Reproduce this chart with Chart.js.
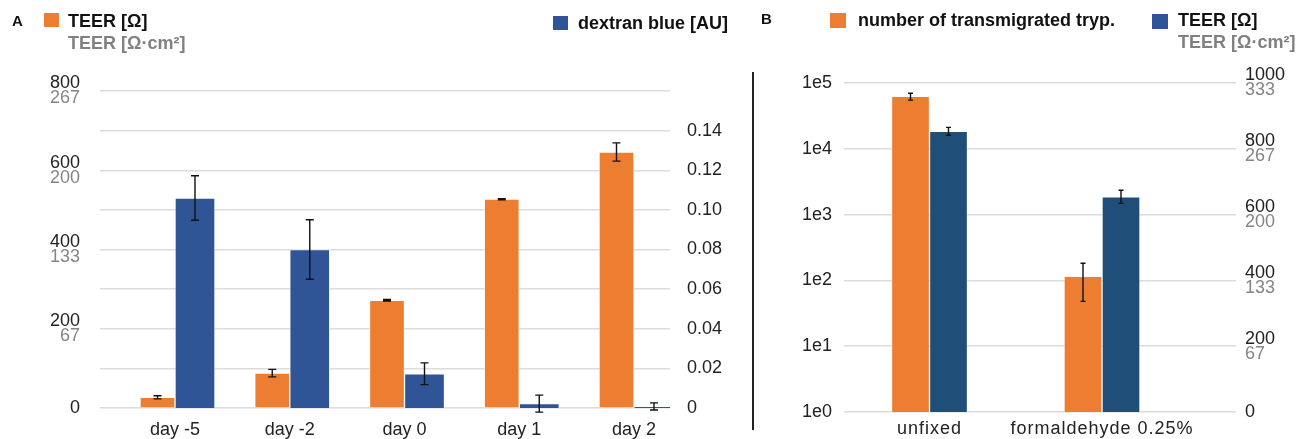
<!DOCTYPE html>
<html>
<head>
<meta charset="utf-8">
<script src="https://cdn.jsdelivr.net/npm/chart.js@4.4.1/dist/chart.umd.min.js"></script>
<style>
  body { margin:0; width:1314px; height:439px; position:relative; overflow:hidden; background:#fff; font-family:'Liberation Sans', Arial, sans-serif; }
  .abs { position:absolute; white-space:nowrap; }
  .lbl { font-weight:bold; font-size:18px; line-height:18px; color:#111; }
  .sub { color:#808080; }
  .letter { font-weight:bold; font-size:15px; line-height:15px; color:#111; }
</style>
</head>
<body>
<canvas id="chartA" class="abs" width="752" height="439" style="left:0;top:0"></canvas>
<canvas id="chartB" class="abs" width="554" height="439" style="left:760px;top:0"></canvas>
<div class="abs" style="left:752px;top:72px;width:1.5px;height:358px;background:#222"></div>

<div class="abs letter" style="left:12px;top:13px">A</div>
<div class="abs" style="left:44px;top:13px;width:15px;height:14px;background:#ED7D31"></div>
<div class="abs lbl" style="left:68px;top:12px">TEER [Ω]</div>
<div class="abs lbl sub" style="left:68px;top:34px">TEER [Ω·cm²]</div>
<div class="abs" style="left:553px;top:16px;width:15px;height:14px;background:#2F5597"></div>
<div class="abs lbl" style="left:578px;top:14px">dextran blue [AU]</div>

<div class="abs letter" style="left:761px;top:11px">B</div>
<div class="abs" style="left:830px;top:13px;width:16px;height:15px;background:#ED7D31"></div>
<div class="abs lbl" style="left:858px;top:11px">number of transmigrated tryp.</div>
<div class="abs" style="left:1152px;top:14px;width:16px;height:15px;background:#2F5597"></div>
<div class="abs lbl" style="left:1178px;top:11px">TEER [Ω]</div>
<div class="abs lbl sub" style="left:1178px;top:33px">TEER [Ω·cm²]</div>

<script>
// panel A
const days = ['day -5', 'day -2', 'day 0', 'day 1', 'day 2'];
const teerA = [27, 88, 272, 527, 646];
const teerErrA = [4, 9.5, 2, 1.5, 23];
const dextranA = [0.106, 0.080, 0.0173, 0.0022, 0.0008];
const dextranErrA = [0.0112, 0.015, 0.0055, 0.0043, 0.0018];
const teerTicksA = [0, 200, 400, 600, 800];
const teerCmTicksA = ['', '67', '133', '200', '267'];

// panel B
const conditions = ['unfixed', 'formaldehyde 0.25%'];
const trypB = [62500, 115];
const trypErrB = [7500, 67];
const teerB = [853, 654];
const teerErrB = [12, 20];
const logTicksB = ['1e0', '1e1', '1e2', '1e3', '1e4', '1e5'];
const teerTicksB = [0, 200, 400, 600, 800, 1000];
const teerCmTicksB = ['', '67', '133', '200', '267', '333'];

const ORANGE = '#ED7D31', BLUE_A = '#2F5597', BLUE_B = '#1F4E79';
const TEXT = '#222', GRID = '#dcdcdc', EDGE = 'rgba(255,255,255,0.5)';
const FAMILY = "'Liberation Sans', Arial, sans-serif";
const tickFont = { family: FAMILY, size: 18, lineHeight: '15px' };
const xFont = { family: FAMILY, size: 18 };

const errorBars = {
  id: 'errorBars',
  afterDatasetsDraw(chart, args, opts) {
    const ctx = chart.ctx;
    ctx.save();
    ctx.strokeStyle = '#111';
    ctx.lineWidth = 1.4;
    chart.data.datasets.forEach((ds, di) => {
      if (!ds.errors) return;
      const meta = chart.getDatasetMeta(di);
      const scale = chart.scales[meta.yAxisID];
      meta.data.forEach((bar, i) => {
        const v = ds.data[i].y, e = ds.errors[i];
        const lo = scale.type === 'logarithmic' ? Math.max(v - e, scale.min) : v - e;
        const yTop = scale.getPixelForValue(v + e), yBot = scale.getPixelForValue(lo);
        const w = opts.cap / 2;
        ctx.beginPath();
        ctx.moveTo(bar.x, yTop); ctx.lineTo(bar.x, yBot);
        ctx.moveTo(bar.x - w, yTop); ctx.lineTo(bar.x + w, yTop);
        ctx.moveTo(bar.x - w, yBot); ctx.lineTo(bar.x + w, yBot);
        ctx.stroke();
      });
    });
    ctx.restore();
  }
};

// grey Ω·cm² line under the Ω tick labels
const subLabels = {
  id: 'subLabels',
  afterDraw(chart, args, opts) {
    const ctx = chart.ctx;
    ctx.save();
    ctx.font = '18px ' + FAMILY;
    ctx.fillStyle = '#858585';
    ctx.textBaseline = 'middle';
    (opts.axes || []).forEach(a => {
      const s = chart.scales[a.id];
      const pad = s.options.ticks.padding;
      const left = s.position === 'left';
      ctx.textAlign = left ? 'right' : 'left';
      const x = left ? s.right - pad : s.left + pad;
      a.values.forEach((v, i) => {
        if (a.labels[i]) ctx.fillText(a.labels[i], x, s.getPixelForValue(v) + 7.5);
      });
    });
    ctx.restore();
  }
};

// the category labels of panel B are slightly letter-spaced
const spacedX = {
  id: 'spacedX',
  afterLayout(chart) {
    const s = chart.scales.x;
    if (s._spaced) return;
    const drawLabels = s.drawLabels;
    s.drawLabels = function (area) {
      const c = this.ctx;
      c.save();
      c.letterSpacing = '1px';
      drawLabels.call(this, area);
      c.restore();
    };
    s._spaced = true;
  }
};

const twoLine = (ticks, subs) => v => {
  const i = ticks.indexOf(v);
  if (i < 0) return '';
  return subs[i] ? [String(v), ''] : String(v);
};

new Chart(document.getElementById('chartA'), {
  type: 'bar',
  data: {
    datasets: [
      { label: 'TEER [Ω]', data: days.map((d, i) => ({ x: i, y: teerA[i] })), errors: teerErrA, yAxisID: 'y',
        backgroundColor: ORANGE, borderColor: EDGE, borderWidth: 1, barThickness: 35 },
      { label: 'dextran blue [AU]', data: days.map((d, i) => ({ x: i, y: dextranA[i] })), errors: dextranErrA, yAxisID: 'y1',
        backgroundColor: BLUE_A, borderColor: EDGE, borderWidth: 1, barThickness: 40 }
    ]
  },
  options: {
    responsive: false, animation: false,
    layout: { padding: { top: 91, left: 0, right: 0, bottom: 0 } },
    plugins: {
      legend: { display: false }, tooltip: { enabled: false },
      errorBars: { cap: 8 },
      subLabels: { axes: [{ id: 'y', values: teerTicksA, labels: teerCmTicksA }] }
    },
    scales: {
      x: {
        type: 'linear', offset: false, min: -0.6536, max: 4.3137,
        grid: { display: false, drawTicks: false, offset: false }, border: { display: false },
        afterBuildTicks: s => { s.ticks = days.map((d, i) => ({ value: i })); },
        afterFit: s => { s.height = 31; },
        ticks: { padding: 11, font: xFont, color: TEXT, autoSkip: false, maxRotation: 0, callback: v => days[v] }
      },
      y: {
        position: 'left', min: 0, max: 800,
        afterFit: s => { s.width = 100; },
        grid: { color: GRID, lineWidth: 1.5, drawTicks: false }, border: { display: false },
        ticks: { stepSize: 100, padding: 20, font: tickFont, color: TEXT, autoSkip: false, callback: twoLine(teerTicksA, teerCmTicksA) }
      },
      y1: {
        position: 'right', min: 0, max: 0.16,
        afterFit: s => { s.width = 82; },
        grid: { display: false, drawTicks: false }, border: { display: false },
        ticks: { stepSize: 0.02, padding: 17, font: tickFont, color: TEXT, autoSkip: false,
          callback: v => v >= 0.159 ? '' : (v === 0 ? '0' : v.toFixed(2)) }
      }
    }
  },
  plugins: [errorBars, subLabels]
});

new Chart(document.getElementById('chartB'), {
  type: 'bar',
  data: {
    datasets: [
      { label: 'number of transmigrated tryp.', data: conditions.map((c, i) => ({ x: i, y: trypB[i] })), errors: trypErrB, yAxisID: 'y',
        backgroundColor: ORANGE, borderColor: EDGE, borderWidth: 1, barThickness: 38 },
      { label: 'TEER [Ω]', data: conditions.map((c, i) => ({ x: i, y: teerB[i] })), errors: teerErrB, yAxisID: 'y1',
        backgroundColor: BLUE_B, borderColor: EDGE, borderWidth: 1, barThickness: 38 }
    ]
  },
  options: {
    responsive: false, animation: false,
    layout: { padding: { top: 83, left: 0, right: 0, bottom: 0 } },
    plugins: {
      legend: { display: false }, tooltip: { enabled: false },
      errorBars: { cap: 5 },
      subLabels: { axes: [{ id: 'y1', values: teerTicksB, labels: teerCmTicksB }] }
    },
    scales: {
      x: {
        type: 'linear', offset: false, min: -0.4957, max: 1.7768,
        grid: { display: false, drawTicks: false, offset: false }, border: { display: false },
        afterBuildTicks: s => { s.ticks = conditions.map((c, i) => ({ value: i })); },
        afterFit: s => { s.height = 27; },
        ticks: { padding: 6, font: xFont, color: TEXT, autoSkip: false, maxRotation: 0, callback: v => conditions[v] }
      },
      y: {
        type: 'logarithmic', position: 'left', min: 1, max: 1e5,
        afterBuildTicks: s => { s.ticks = logTicksB.map((t, i) => ({ value: Math.pow(10, i) })); },
        afterFit: s => { s.width = 84; },
        grid: { color: GRID, lineWidth: 1.5, drawTicks: false }, border: { display: false },
        ticks: { padding: 12, font: tickFont, color: TEXT, autoSkip: false, callback: (v, i) => logTicksB[i] }
      },
      y1: {
        position: 'right', min: 0, max: 1000,
        afterFit: s => { s.width = 78; },
        grid: { display: false, drawTicks: false }, border: { display: false },
        ticks: { stepSize: 200, padding: 9, font: tickFont, color: TEXT, autoSkip: false, callback: twoLine(teerTicksB, teerCmTicksB) }
      }
    }
  },
  plugins: [errorBars, subLabels, spacedX]
});
</script>
</body>
</html>
